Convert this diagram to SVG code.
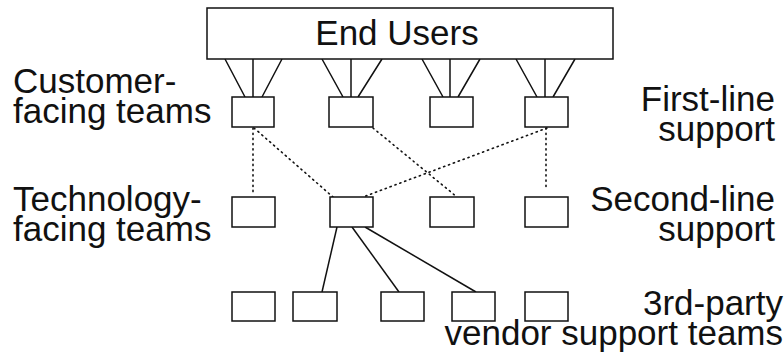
<svg xmlns="http://www.w3.org/2000/svg" width="784" height="360" viewBox="0 0 784 360">
  <style>
    .box { fill: #fff; stroke: #111; stroke-width: 1.5; }
    .solid { stroke: #111; stroke-width: 1.5; fill: none; }
    .dotted { stroke: #111; stroke-width: 1.6; fill: none; stroke-dasharray: 1.2 4; stroke-linecap: round; }
    .lbl { font-family: "Liberation Sans", Arial, Helvetica, sans-serif; font-size: 35px; fill: #111; }
    .r { text-anchor: end; }
  </style>
  <rect width="784" height="360" fill="#fff"/>

  <!-- connectors -->
  <g id="connectors">
    <!-- fans from End Users to first-line boxes -->
    <path class="solid" d="M225,59 L245,97 M253,59 L253,97 M282,59 L262,97"/>
    <path class="solid" d="M322,59 L343,97 M351,59 L351,97 M382,59 L358,97"/>
    <path class="solid" d="M422,59 L443,97 M450,59 L450,97 M480,59 L458,97"/>
    <path class="solid" d="M516,59 L537,97 M545,59 L545,97 M575,59 L553,97"/>
    <!-- dotted links between first-line and second-line -->
    <path class="dotted" d="M253,128 L253,195"/>
    <path class="dotted" d="M254,128 L333,197"/>
    <path class="dotted" d="M373,128 L457,197"/>
    <path class="dotted" d="M547,128 L363,197"/>
    <path class="dotted" d="M546,128 L546,190"/>
    <!-- solid links to vendor teams -->
    <path class="solid" d="M337,227 L322,292"/>
    <path class="solid" d="M352,227 L399,292"/>
    <path class="solid" d="M365,227 L476,292"/>
  </g>

  <g id="end-users">
    <rect class="box" x="207" y="8" width="406" height="51"/>
    <text class="lbl" x="397" y="45" text-anchor="middle">End Users</text>
  </g>

  <g id="first-line">
    <rect id="f1" class="box" x="232" y="97" width="42" height="30"/>
    <rect id="f2" class="box" x="329" y="97" width="44" height="30"/>
    <rect id="f3" class="box" x="430" y="97" width="43" height="30"/>
    <rect id="f4" class="box" x="525" y="97" width="43" height="30"/>
  </g>

  <g id="second-line">
    <rect id="s1" class="box" x="232" y="197" width="43" height="30"/>
    <rect id="s2" class="box" x="330" y="197" width="43" height="30"/>
    <rect id="s3" class="box" x="430" y="197" width="44" height="30"/>
    <rect id="s4" class="box" x="525" y="197" width="43" height="30"/>
  </g>

  <g id="vendors">
    <rect id="v1" class="box" x="232" y="292" width="43" height="29"/>
    <rect id="v2" class="box" x="293" y="292" width="44" height="29"/>
    <rect id="v3" class="box" x="381" y="292" width="43" height="29"/>
    <rect id="v4" class="box" x="452" y="292" width="43" height="29"/>
    <rect id="v5" class="box" x="525" y="292" width="43" height="29"/>
  </g>

  <g id="labels">
    <text class="lbl"><tspan x="13" y="93">Customer-</tspan><tspan x="13" y="123">facing teams</tspan></text>
    <text class="lbl"><tspan x="13" y="211">Technology-</tspan><tspan x="13" y="241">facing teams</tspan></text>
    <text class="lbl r"><tspan x="775" y="111">First-line</tspan><tspan x="775" y="141">support</tspan></text>
    <text class="lbl r"><tspan x="775" y="211">Second-line</tspan><tspan x="775" y="241">support</tspan></text>
    <text class="lbl r"><tspan x="783" y="315">3rd-party</tspan><tspan x="783" y="345">vendor support teams</tspan></text>
  </g>
</svg>
